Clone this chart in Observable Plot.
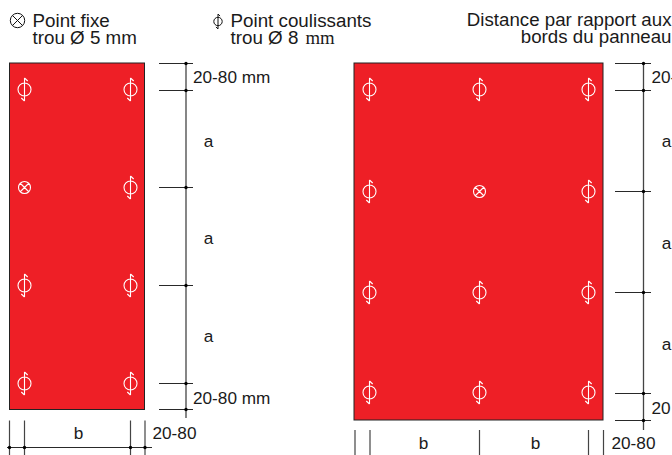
<!DOCTYPE html>
<html>
<head>
<meta charset="utf-8">
<style>html,body{margin:0;padding:0;background:#fff}svg{display:block}</style>
<script src="https://cdn.jsdelivr.net/npm/d3@7"></script>
<script src="https://cdn.jsdelivr.net/npm/@observablehq/plot@0.6"></script>
</head>
<body>
<div id="chart"></div>
<script>
// Panels, in drawing units
const panelNames = ["narrow", "wide"];
const panelX1 = [9.5, 354];
const panelX2 = [144.5, 603];
const panelY1 = [63, 63];
const panelY2 = [409.5, 420];

// Fixing holes
const holeXNarrow = [24, 130];
const holeYNarrow = [89, 187, 285, 383];
const holeXWide = [369, 479, 588];
const holeYWide = [89, 191, 292, 392];
const fixedHoles = [[24, 187], [479, 191]];

// Dimension lines
const dimXNarrow = 185.5;
const dimXWide = 643;
const dimTicksNarrow = [63, 90, 187, 285, 383, 409];
const dimTicksWide = [63, 90, 191, 292, 393, 420];
const bottomTicksNarrow = [9, 24, 130, 144.5];
const bottomTicksWide = [354.5, 369.5, 479, 588, 603];

// Texts
const headingsStart = [
  ["Point fixe", 32, 20], ["trou Ø 5 mm", 32, 37],
  ["Point coulissants", 230, 20], ["trou Ø 8", 230, 37]
];
const headingsEnd = [["Distance par rapport aux", 671, 20], ["bords du panneau", 671, 37]];
const dimLabelsStart = [
  ["20-80 mm", 192.5, 77], ["20-80 mm", 192.5, 397.5], ["20-80", 152, 433],
  ["20-", 651, 77], ["20", 651, 408], ["20-80", 611, 443]
];
const dimLabelsMiddle = [
  ["a", 208, 141], ["a", 208, 238], ["a", 208, 336],
  ["b", 78, 433],
  ["a", 666, 141], ["a", 666, 243], ["a", 666, 344],
  ["b", 423, 443], ["b", 535, 443]
];
const serifUnit = [["mm", 305, 37]];

const slidingSymbol = {draw(c, size) {
  const r = Math.sqrt(size / Math.PI);
  const k = r / 6.5;
  c.moveTo(r, 0); c.arc(0, 0, r, 0, 2 * Math.PI);
  c.moveTo(0, -11.5 * k); c.lineTo(0, 11.5 * k);
  c.moveTo(0, -11.5 * k); c.lineTo(3.2 * k, -8.5 * k);
  c.moveTo(0, 11.5 * k); c.lineTo(-3.2 * k, 8.5 * k);
}};
const fixedSymbol = {draw(c, size) {
  const r = Math.sqrt(size / Math.PI);
  const d = r * Math.SQRT1_2;
  c.moveTo(r, 0); c.arc(0, 0, r, 0, 2 * Math.PI);
  c.moveTo(-d, -d); c.lineTo(d, d);
  c.moveTo(-d, d); c.lineTo(d, -d);
}};

const isFixed = (x, y) => fixedHoles.some(([a, b]) => a === x && b === y);
const cross = (xs, ys) => xs.flatMap(x => ys.map(y => ({x, y}))).filter(d => !isFixed(d.x, d.y));
const sliding = [...cross(holeXNarrow, holeYNarrow), ...cross(holeXWide, holeYWide)];
const panels = panelNames.map((n, i) => ({x1: panelX1[i], x2: panelX2[i], y1: panelY1[i], y2: panelY2[i]}));
const lineColor = "#111";
const stemColor = "#444";
const textColor = "#1a1a1a";

const txt = (rows, anchor, fontSize, extra = {}) => Plot.text(rows, {
  x: d => d[1], y: d => d[2], text: d => d[0], textAnchor: anchor, fontSize,
  fill: textColor, lineAnchor: "middle", ...extra
});

const marks = [
  Plot.rect(panels, {x1: "x1", x2: "x2", y1: "y1", y2: "y2", fill: "#ee1f26", stroke: "#222", strokeWidth: 1}),
  Plot.dot(sliding, {x: "x", y: "y", r: 6.5, symbol: slidingSymbol, stroke: "#fff", strokeWidth: 1.1, fill: "none"}),
  Plot.dot(fixedHoles, {x: d => d[0], y: d => d[1], r: 6, symbol: fixedSymbol, stroke: "#fff", strokeWidth: 1.1, fill: "none"}),

  // narrow panel, right dimension
  Plot.ruleX([dimXNarrow], {y1: 63, y2: 418, stroke: stemColor, strokeWidth: 1.3}),
  Plot.ruleY(dimTicksNarrow, {x1: 159, x2: 193, stroke: lineColor, strokeWidth: 0.9}),
  Plot.dot(dimTicksNarrow, {x: () => dimXNarrow, y: d => d, r: 1.7, fill: "#000"}),

  // narrow panel, bottom dimension
  Plot.ruleX(bottomTicksNarrow, {y1: 420.5, y2: 455, stroke: stemColor, strokeWidth: 1.2}),
  Plot.ruleY([447], {x1: 7, x2: 152, stroke: lineColor, strokeWidth: 0.9}),
  Plot.dot(bottomTicksNarrow, {x: d => d, y: () => 447, r: 1.7, fill: "#000"}),

  // wide panel, right dimension
  Plot.ruleX([dimXWide], {y1: 63, y2: 430, stroke: stemColor, strokeWidth: 1.3}),
  Plot.ruleY(dimTicksWide, {x1: 615, x2: 651, stroke: lineColor, strokeWidth: 0.9}),
  Plot.dot(dimTicksWide, {x: () => dimXWide, y: d => d, r: 1.7, fill: "#000"}),

  // wide panel, bottom dimension
  Plot.ruleX(bottomTicksWide, {y1: 430, y2: 455, stroke: stemColor, strokeWidth: 1.2}),

  // legend symbols
  Plot.dot([[17, 20]], {x: d => d[0], y: d => d[1], r: 7.2, symbol: fixedSymbol, stroke: "#111", strokeWidth: 1, fill: "none"}),
  Plot.dot([[217.5, 21]], {x: d => d[0], y: d => d[1], r: 4.2, symbol: slidingSymbol, stroke: "#111", strokeWidth: 1, fill: "none"}),

  txt(headingsStart, "start", 18.8),
  txt(headingsEnd, "end", 18.7),
  txt(dimLabelsStart, "start", 17.2),
  txt(dimLabelsMiddle, "middle", 17.2),
  txt(serifUnit, "start", 18.8, {fontFamily: "'Liberation Serif', serif"})
];

const chart = Plot.plot({
  width: 672, height: 455,
  margin: 0,
  x: {domain: [0, 672], range: [0, 672], axis: null},
  y: {domain: [0, 455], range: [0, 455], axis: null},
  style: {fontFamily: "'Liberation Sans', Arial, sans-serif", background: "#fff"},
  marks
});
document.getElementById("chart").appendChild(chart);
</script>
</body>
</html>
